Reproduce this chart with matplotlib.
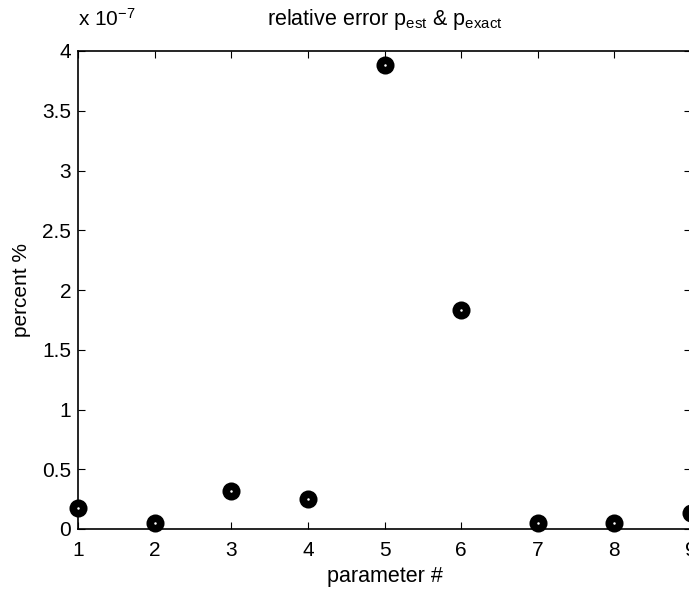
import matplotlib
matplotlib.use("Agg")
import matplotlib.pyplot as plt
from matplotlib.ticker import FuncFormatter

plt.rcParams['font.family'] = ['Liberation Sans', 'DejaVu Sans']
plt.rcParams['mathtext.fontset'] = 'custom'
plt.rcParams['mathtext.rm'] = 'Liberation Sans'
plt.rcParams['mathtext.it'] = 'Liberation Sans'

params = [1, 2, 3, 4, 5, 6, 7, 8, 9]
rel_error = [0.173e-7, 0.048e-7, 0.315e-7, 0.248e-7, 3.883e-7,
             1.83e-7, 0.048e-7, 0.05e-7, 0.13e-7]
y_ticks = [0, 0.5e-7, 1e-7, 1.5e-7, 2e-7, 2.5e-7, 3e-7, 3.5e-7, 4e-7]

fig = plt.figure(figsize=(6.89, 5.93), dpi=100)
ax = fig.add_axes([78 / 689, 64 / 593, 613 / 689, 478 / 593])

ax.plot(params, rel_error, 'o', color='k', ms=11, mew=2, clip_on=False, zorder=3)
ax.plot(params, rel_error, 'o', color='w', ms=1.8, mew=0, clip_on=False, zorder=4)

ax.set_xlim(1, 9)
ax.set_ylim(0, 4e-7)
ax.set_xticks(params)
ax.set_yticks(y_ticks)
ax.yaxis.set_major_formatter(FuncFormatter(lambda v, p: "%g" % round(v * 1e7, 3)))

ax.tick_params(direction='in', length=5, width=0.8, labelsize=15,
               top=True, right=True)
ax.tick_params(axis='x', pad=9)
ax.tick_params(axis='y', pad=5)
for s in ax.spines.values():
    s.set_linewidth(1.2)

ax.text(0.0, 1.045, r"x 10$^{-7}$", transform=ax.transAxes, fontsize=15,
        ha='left', va='bottom')
ax.set_title(r"relative error p$_{\mathrm{est}}$ & p$_{\mathrm{exact}}$",
             fontsize=15.5, pad=19)
ax.set_xlabel("parameter #", fontsize=15.5, labelpad=4)
ax.set_ylabel("percent %", fontsize=15, labelpad=8)

fig.savefig("out.png", dpi=100)
